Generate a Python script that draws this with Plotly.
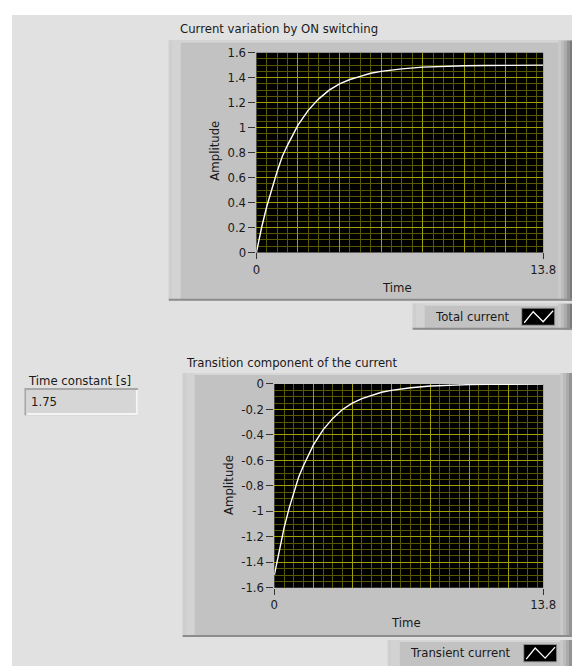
import plotly.graph_objects as go

# ---------------- data ----------------
time_s = [0, 0.25, 0.5, 0.75, 1, 1.25, 1.5, 2, 2.5, 3, 3.5, 4, 4.5, 5, 5.5, 6,
          7, 8, 9, 10, 11, 12, 13, 13.8]
total_current = [0, 0.20, 0.37, 0.52, 0.65, 0.77, 0.86, 1.02, 1.14, 1.23, 1.30,
                 1.35, 1.385, 1.41, 1.435, 1.45, 1.47, 1.484, 1.491, 1.495,
                 1.497, 1.498, 1.499, 1.5]
transient_current = [-1.5, -1.30, -1.13, -0.98, -0.85, -0.73, -0.64, -0.48,
                     -0.36, -0.27, -0.20, -0.15, -0.115, -0.09, -0.065, -0.05,
                     -0.03, -0.016, -0.009, -0.005, -0.003, -0.002, -0.001, 0]

x_tick_vals = [0, 13.8]
x_tick_text = ["0", "13.8"]
top_y_vals = [0, 0.2, 0.4, 0.6, 0.8, 1.0, 1.2, 1.4, 1.6]
top_y_text = ["0", "0.2", "0.4", "0.6", "0.8", "1", "1.2", "1.4", "1.6"]
bot_y_vals = [-1.6, -1.4, -1.2, -1.0, -0.8, -0.6, -0.4, -0.2, 0]
bot_y_text = ["-1.6", "-1.4", "-1.2", "-1", "-0.8", "-0.6", "-0.4", "-0.2", "0"]

top_title = "Current variation by ON switching"
bot_title = "Transition component of the current"
top_series = "Total current"
bot_series = "Transient current"
tc_label = "Time constant [s]"
tc_value = "1.75"

# ---------------- helpers ----------------
W, H = 580, 666
# the captured page maps figure pixels to picture pixels as  pic = S*fig + C
S, CX, CY = 0.975, 10.5, 16.5
FONT = "DejaVu Sans"
FS = 11.7
TXT = "#1a1a1a"
MAJ = "#a0a000"
MIN = "#585800"


def px(x):
    return ((x - CX) / S) / W


def py(y):
    return 1 - ((y - CY) / S) / H


shapes = []
annotations = []


def rect(x0, y0, x1, y1, fill, layer="below"):
    shapes.append(dict(type="rect", xref="paper", yref="paper",
                       x0=px(x0), x1=px(x1), y0=py(y1), y1=py(y0),
                       fillcolor=fill, line=dict(width=0), layer=layer))


def frame(x0, y0, x1, y1):
    rect(x0, y0, x1, y1, "#c2c2c2")
    rect(x0, y0, x1, y0 + 2, "#d6d6d6")
    rect(x0, y0, x0 + 3, y1, "#cfcfcf")
    rect(x0 + 3, y0, x0 + 12, y1, "#d3d3d3")
    cols = ["#c9c9c9", "#bcbcbc", "#aaaaaa", "#939393", "#7a7a7a"]
    w = (x1 - 15)
    for i, c in enumerate(cols):
        rect(w + i * 3, y0, w + (i + 1) * 3, y1, c)
    rect(x0, y1 - 2, x1, y1, "#8c8c8c")


def label(text, x, y, anchor="left", angle=0, size=FS):
    annotations.append(dict(text=text, x=px(x), y=py(y), xref="paper", yref="paper",
                            xanchor=anchor, yanchor="middle", showarrow=False,
                            textangle=angle,
                            font=dict(family=FONT, size=size, color=TXT)))


def legend_box(x0, y0, x1, y1, text, text_x):
    frame(x0, y0, x1, y1)
    ix0, ix1 = x1 - 52, x1 - 18
    iy0, iy1 = y0 + 4, y0 + 22
    rect(ix0, iy0, ix1, iy1, "#8a8a8a", layer="above")
    rect(ix0 + 1, iy0 + 1, ix1 - 1, iy1 - 1, "#000000", layer="above")
    pts = [(ix0 + 3, iy1 - 3), (ix0 + 12, iy0 + 4), (ix0 + 22, iy1 - 4), (ix1 - 2, iy0 + 3)]
    path = "M " + " L ".join(f"{px(a):.5f},{py(b):.5f}" for a, b in pts)
    shapes.append(dict(type="path", xref="paper", yref="paper", path=path,
                       line=dict(color="white", width=1.3), layer="above"))
    label(text, text_x, y0 + 13)


# panel background (covers the whole figure)
shapes.append(dict(type="rect", xref="paper", yref="paper", x0=0, x1=1, y0=0, y1=1,
                   fillcolor="#e1e1e1", line=dict(width=0), layer="below"))

# graph frames
frame(168, 42, 574, 301)
frame(182, 373, 576, 636)

# plot areas black
rect(256, 54, 544, 253, "#000000")
rect(274, 384, 544, 587, "#000000")

# time constant control
rect(23, 388, 137, 415, "#a8a8a8")
rect(25, 390, 137, 415, "#f4f4f4")
rect(25, 390, 135, 413, "#d6d6d6")

# legends
legend_box(413, 304, 574, 330, top_series, 433)
legend_box(388, 639, 576, 670, bot_series, 408)

# texts
label(top_title, 177, 30)
label(bot_title, 183, 363)
label(tc_label, 25, 381)
label(tc_value, 28, 402)
label("Amplitude", 214, 152, anchor="center", angle=-90)
label("Amplitude", 229, 485, anchor="center", angle=-90)
label("Time", 397, 288, anchor="center")
label("Time", 406, 622, anchor="center")

# ---------------- figure ----------------
fig = go.Figure()
fig.add_trace(go.Scatter(x=time_s, y=total_current, mode="lines", name=top_series,
                         line=dict(color="white", width=1.4), xaxis="x", yaxis="y"))
fig.add_trace(go.Scatter(x=time_s, y=transient_current, mode="lines", name=bot_series,
                         line=dict(color="white", width=1.4), xaxis="x2", yaxis="y2"))
# invisible carriers so the label-only x axes are drawn
fig.add_trace(go.Scatter(x=x_tick_vals, y=[None, None], mode="lines", hoverinfo="skip",
                         showlegend=False, xaxis="x3", yaxis="y"))
fig.add_trace(go.Scatter(x=x_tick_vals, y=[None, None], mode="lines", hoverinfo="skip",
                         showlegend=False, xaxis="x4", yaxis="y2"))

tickfont = dict(family=FONT, size=FS, color=TXT)


def grid_x(domain, anchor):
    return dict(domain=domain, range=[0, 13.8], anchor=anchor, tick0=0, dtick=2,
                showgrid=True, gridcolor=MAJ, gridwidth=1, zeroline=False,
                showline=False, showticklabels=False, ticks="",
                minor=dict(dtick=0.5, tick0=0, showgrid=True, gridcolor=MIN,
                           gridwidth=1, ticks=""),
                fixedrange=True)


def label_x(over, anchor):
    return dict(overlaying=over, anchor=anchor, range=[0, 13.8], tickmode="array",
                tickvals=x_tick_vals, ticktext=x_tick_text, ticks="outside",
                ticklen=6, tickcolor="#333333", tickwidth=1, showgrid=False,
                zeroline=False, showline=False, tickfont=tickfont, fixedrange=True)


def grid_y(domain, anchor, rng, vals, text):
    return dict(domain=domain, range=rng, anchor=anchor, tickmode="array",
                tickvals=vals, ticktext=text, ticks="outside", ticklen=7,
                tickcolor="#333333", tickwidth=1, showgrid=True, gridcolor=MAJ,
                gridwidth=1, zeroline=False, showline=False, tickfont=tickfont,
                minor=dict(dtick=0.05, tick0=0, showgrid=True, gridcolor=MIN,
                           gridwidth=1, ticks=""),
                fixedrange=True)


fig.update_layout(
    width=W, height=H, autosize=False,
    margin=dict(l=0, r=0, t=0, b=0, pad=0),
    paper_bgcolor="white", plot_bgcolor="black",
    showlegend=False,
    xaxis=grid_x([px(256), px(544)], "y"),
    xaxis2=grid_x([px(274), px(544)], "y2"),
    xaxis3=label_x("x", "y"),
    xaxis4=label_x("x2", "y2"),
    yaxis=grid_y([py(253), py(54)], "x", [0, 1.6], top_y_vals, top_y_text),
    yaxis2=grid_y([py(587), py(384)], "x2", [-1.6, 0], bot_y_vals, bot_y_text),
    shapes=shapes,
    annotations=annotations,
)

fig.write_html("out.html", config={"displayModeBar": False})
